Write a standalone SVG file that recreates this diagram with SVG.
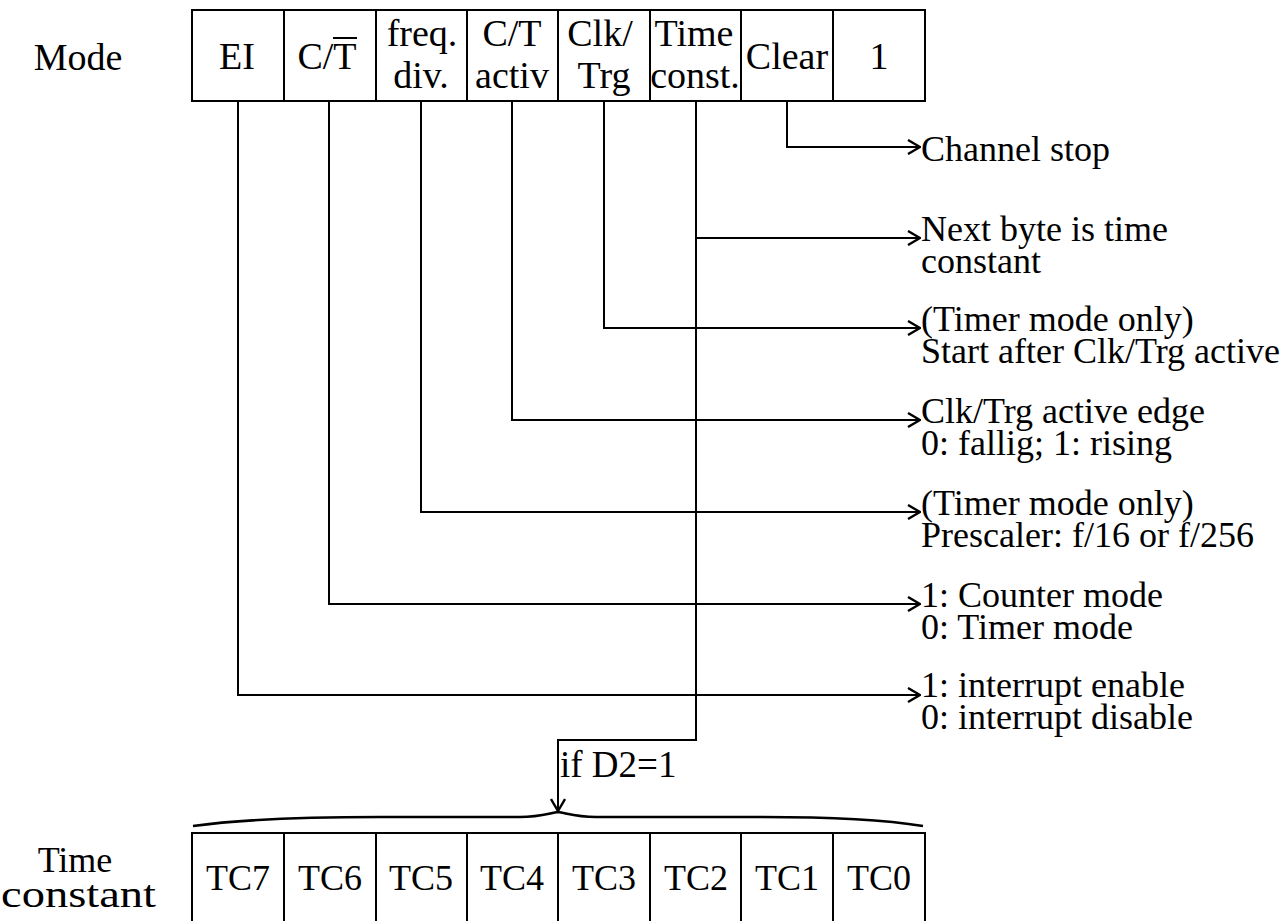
<svg xmlns="http://www.w3.org/2000/svg" width="1283" height="921" viewBox="0 0 1283 921" font-family="'Liberation Serif', 'DejaVu Serif', serif">
<style>
text{font-family:'Liberation Serif','DejaVu Serif',serif;font-size:36px;fill:#000}
.c{text-anchor:middle}
.b{font-size:38px}
.box{fill:#fff;stroke:#000;stroke-width:2}
.ln{fill:none;stroke:#000;stroke-width:2}
</style>
<defs>
<marker id="ah" viewBox="0 0 14 16" refX="13" refY="8" markerWidth="14" markerHeight="16" markerUnits="userSpaceOnUse" orient="auto">
<path d="M1,1 L13,8 L1,15" fill="none" stroke="#000" stroke-width="2.4"/>
</marker>
</defs>
<rect width="1283" height="921" fill="#fff"/>
<g id="mode-label"><text class="c b" x="78" y="70">Mode</text></g>
<g id="mode-register">
<rect class="box" x="192" y="10" width="92" height="91"/>
<rect class="box" x="284" y="10" width="92" height="91"/>
<rect class="box" x="376" y="10" width="91" height="91"/>
<rect class="box" x="467" y="10" width="91" height="91"/>
<rect class="box" x="558" y="10" width="92" height="91"/>
<rect class="box" x="650" y="10" width="91" height="91"/>
<rect class="box" x="741" y="10" width="92" height="91"/>
<rect class="box" x="833" y="10" width="92" height="91"/>
<text class="c b" x="237" y="69">EI</text>
<text class="c b" x="327" y="69">C/T</text>
<line x1="333" y1="38" x2="357" y2="38" stroke="#000" stroke-width="2"/>
<text class="c b" x="422" y="46">freq.</text>
<text class="c b" x="421" y="88">div.</text>
<text class="c b" x="512" y="46">C/T</text>
<text class="c b" x="512" y="88">activ</text>
<text class="c b" x="600" y="46">Clk/</text>
<text class="c b" x="604" y="88">Trg</text>
<text class="c b" x="694" y="46">Time</text>
<text class="c b" x="695" y="88">const.</text>
<text class="c b" x="787" y="69">Clear</text>
<text class="c b" x="879" y="69">1</text>
</g>
<g id="connectors" class="ln">
<path class="ln" d="M787,101 V147 H920" marker-end="url(#ah)"/>
<path class="ln" d="M696,101 V238 H920" marker-end="url(#ah)"/>
<path class="ln" d="M604,101 V328 H920" marker-end="url(#ah)"/>
<path class="ln" d="M512,101 V420 H920" marker-end="url(#ah)"/>
<path class="ln" d="M421,101 V512 H920" marker-end="url(#ah)"/>
<path class="ln" d="M329,101 V604 H920" marker-end="url(#ah)"/>
<path class="ln" d="M238,101 V695 H920" marker-end="url(#ah)"/>
<path class="ln" d="M696,238 V740 H558 V811" marker-end="url(#ah)"/>
</g>
<g id="desc-clear"><text x="921" y="161">Channel stop</text></g>
<g id="desc-timeconst"><text x="921" y="241">Next byte is time</text><text x="921" y="273">constant</text></g>
<g id="desc-clktrg"><text x="921" y="331">(Timer mode only)</text><text x="921" y="363">Start after Clk/Trg active</text></g>
<g id="desc-ctactiv"><text x="921" y="423">Clk/Trg active edge</text><text x="921" y="455">0: fallig; 1: rising</text></g>
<g id="desc-freqdiv"><text x="921" y="515">(Timer mode only)</text><text x="921" y="547">Prescaler: f/16 or f/256</text></g>
<g id="desc-ct"><text x="921" y="607">1: Counter mode</text><text x="921" y="639">0: Timer mode</text></g>
<g id="desc-ei"><text x="921" y="697">1: interrupt enable</text><text x="921" y="729">0: interrupt disable</text></g>
<g id="cond-label"><text x="560" y="777" style="font-size:37px">if D2=1</text></g>
<g id="brace"><path d="M193,826 C250,818 320,817 380,817 L520,817 C540,817 550,813 558,812 C566,813 576,817 596,817 L760,817 C820,817 880,819 923,826" fill="none" stroke="#000" stroke-width="2.6"/></g>
<g id="tc-label"><text class="c" x="75" y="872">Time</text><text x="1" y="907" style="font-size:38px" textLength="155" lengthAdjust="spacingAndGlyphs">constant</text></g>
<g id="tc-register">
<rect class="box" x="192" y="833" width="92" height="91"/>
<rect class="box" x="284" y="833" width="92" height="91"/>
<rect class="box" x="376" y="833" width="91" height="91"/>
<rect class="box" x="467" y="833" width="91" height="91"/>
<rect class="box" x="558" y="833" width="92" height="91"/>
<rect class="box" x="650" y="833" width="91" height="91"/>
<rect class="box" x="741" y="833" width="92" height="91"/>
<rect class="box" x="833" y="833" width="92" height="91"/>
<text class="c" x="238" y="890">TC7</text>
<text class="c" x="330" y="890">TC6</text>
<text class="c" x="421" y="890">TC5</text>
<text class="c" x="512" y="890">TC4</text>
<text class="c" x="604" y="890">TC3</text>
<text class="c" x="696" y="890">TC2</text>
<text class="c" x="787" y="890">TC1</text>
<text class="c" x="879" y="890">TC0</text>
</g>
</svg>
